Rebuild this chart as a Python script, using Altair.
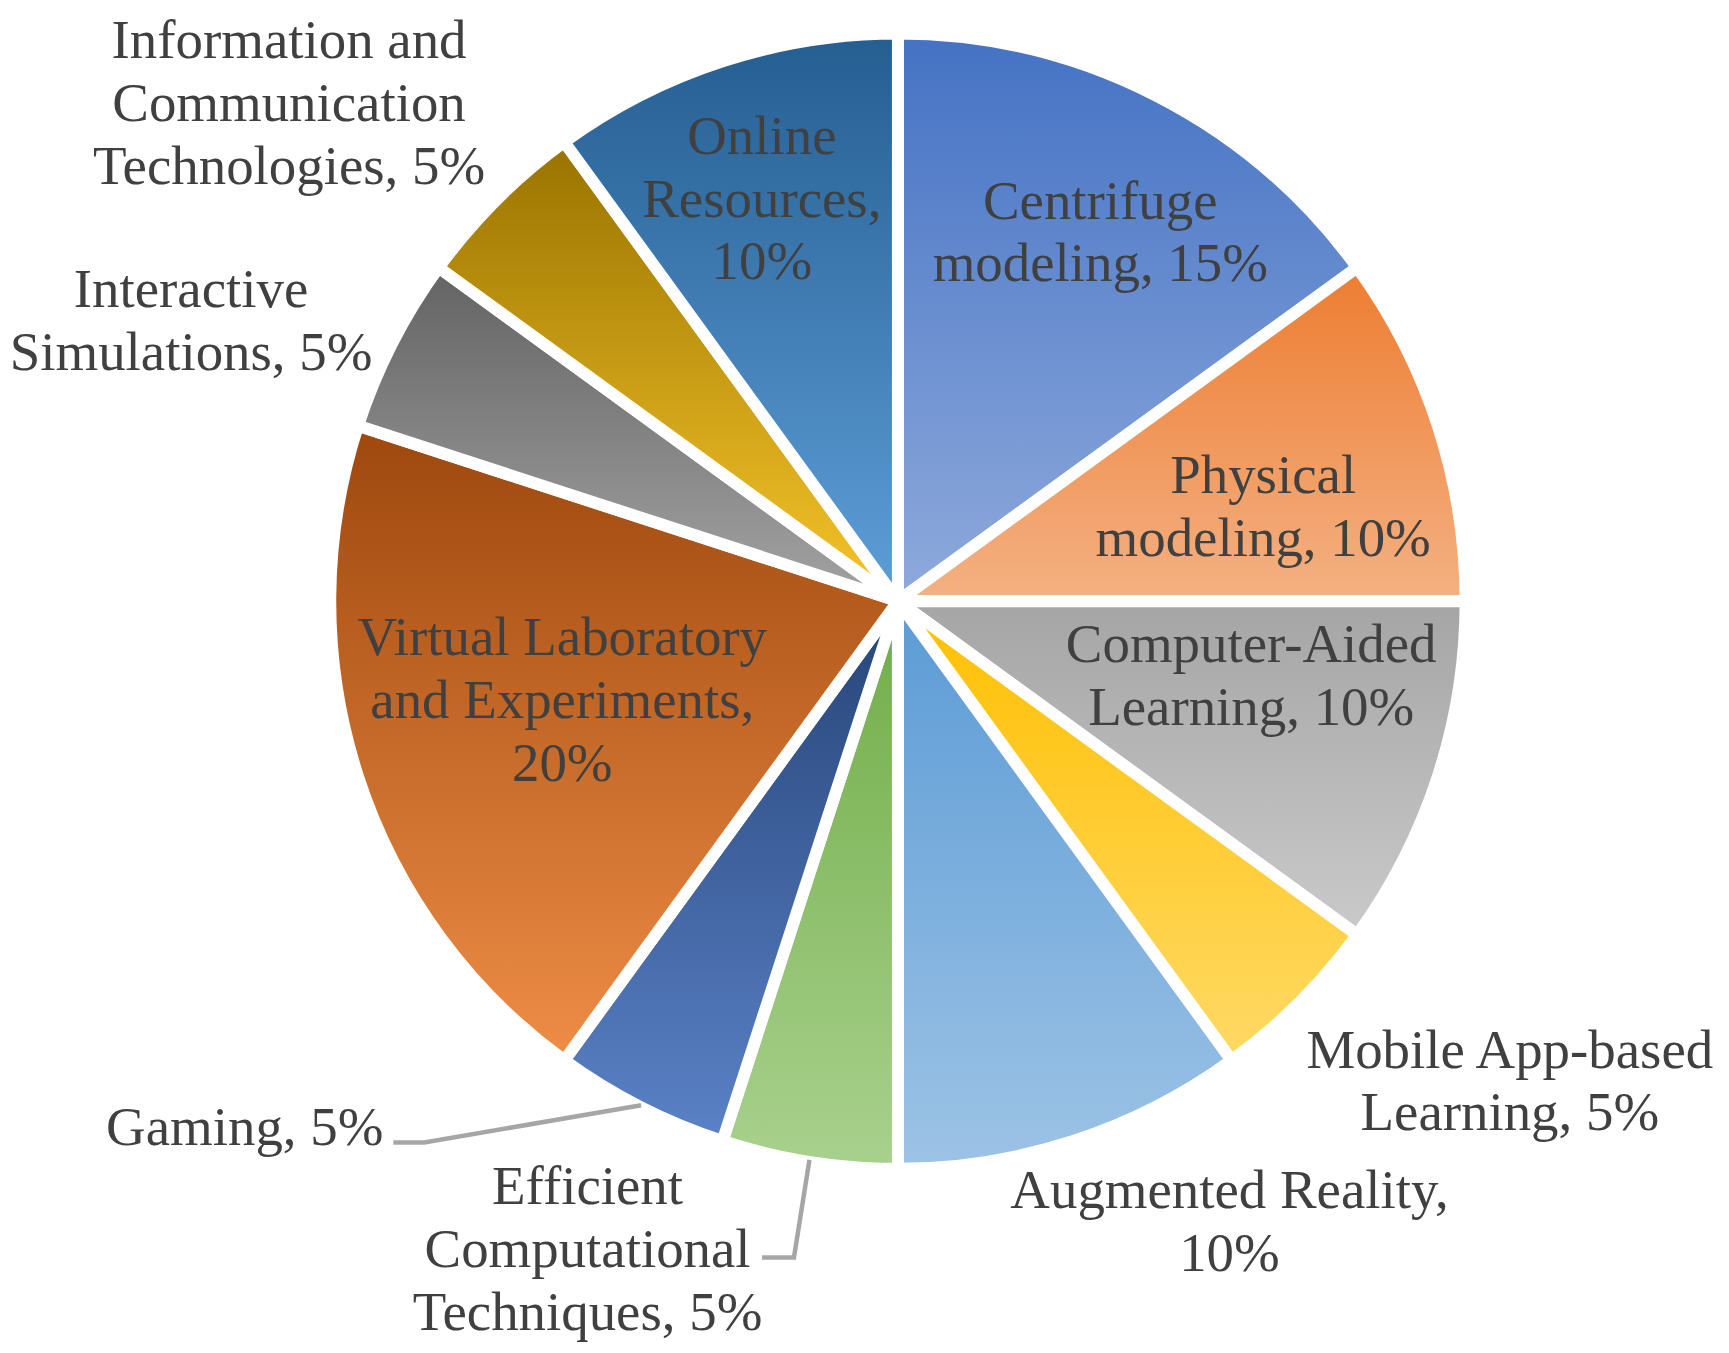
import math
import altair as alt
import numpy as np
import pandas as pd

# ---- data ----
categories = [
    "Centrifuge modeling",
    "Physical modeling",
    "Computer-Aided Learning",
    "Mobile App-based Learning",
    "Augmented Reality",
    "Efficient Computational Techniques",
    "Gaming",
    "Virtual Laboratory and Experiments",
    "Interactive Simulations",
    "Information and Communication Technologies",
    "Online Resources",
]
values = [15, 10, 10, 5, 10, 5, 5, 20, 5, 5, 10]
labels = [
    "Centrifuge\nmodeling, 15%",
    "Physical\nmodeling, 10%",
    "Computer-Aided\nLearning, 10%",
    "Mobile App-based\nLearning, 5%",
    "Augmented Reality,\n10%",
    "Efficient\nComputational\nTechniques, 5%",
    "Gaming, 5%",
    "Virtual Laboratory\nand Experiments,\n20%",
    "Interactive\nSimulations, 5%",
    "Information and\nCommunication\nTechnologies, 5%",
    "Online\nResources,\n10%",
]

# ---- style / layout ----
top_colors = ["#4472C4", "#ED7D31", "#A5A5A5", "#FFC000", "#5B9BD5", "#70AD47",
              "#264478", "#9E480E", "#636363", "#997300", "#255E91"]
bottom_colors = ["#8FAADC", "#F4B183", "#CACACA", "#FFD966", "#9DC3E6", "#A9D18E",
                 "#5B82C7", "#EE8D46", "#A3A3A3", "#F7C52A", "#5E9ED8"]
label_shift = [0.5, 1.0, -1.67, -1.9, -2.8, 4.6, 6.7, 0.4, -1.5, -1.6, -0.2]   # % points from slice middle
label_radius = [421, 378, 362, 780, 706, 721, 841, 351, 762, 788, 425]          # px from centre

leader_cats = ["Gaming", "Efficient Computational Techniques"]
leader_elbow_shift = [3.94, 0.0]
leader_elbow_r = [721, 666]
leader_tail = [-31, -32]
leader_start_r = 567

W, H = 1600, 1186
R_OUT = 569
LINE_H = 63
FONT_SIZE = 55
total = sum(values)

cum = np.cumsum(values)
df = pd.DataFrame({
    "category": categories,
    "value": values,
    "label": labels,
    "start": cum - np.array(values),
    "end": cum,
})
df["mid"] = (df["start"] + df["end"]) / 2
df["lt"] = df["mid"] + np.array(label_shift)
df["lr"] = label_radius
df["nlines"] = [s.count("\n") + 1 for s in labels]

rows = []
for cat, sh, er, tail in zip(leader_cats, leader_elbow_shift, leader_elbow_r, leader_tail):
    mid = float(df.loc[df.category == cat, "mid"].iloc[0])
    rows.append({"category": cat, "step": 0, "pct": mid, "r": leader_start_r, "dx": 0})
    rows.append({"category": cat, "step": 1, "pct": mid + sh, "r": er, "dx": 0})
    rows.append({"category": cat, "step": 2, "pct": mid + sh, "r": er, "dx": tail})
leaders_df = pd.DataFrame(rows)

theta_scale = alt.Scale(domain=[0, total], range=[0, 2 * math.pi])

arcs = []
for cat, c0, c1 in zip(categories, top_colors, bottom_colors):
    grad = alt.LinearGradient(
        gradient="linear",
        stops=[alt.GradientStop(color=c0, offset=0), alt.GradientStop(color=c1, offset=1)],
        x1=0, x2=0, y1=0, y2=1,
    )
    arcs.append(
        alt.Chart(df)
        .transform_filter(alt.datum.category == cat)
        .mark_arc(outerRadius=R_OUT, fill=grad, stroke="white", strokeWidth=12)
        .encode(
            theta=alt.Theta("start:Q", scale=theta_scale, stack=None),
            theta2="end:Q",
        )
    )

leaders = (
    alt.Chart(leaders_df)
    .transform_calculate(a=f"datum.pct / {total} * 2 * PI")
    .transform_calculate(px="datum.r * sin(datum.a) + datum.dx", py="datum.r * cos(datum.a)")
    .mark_line(color="#A6A6A6", strokeWidth=4.5)
    .encode(
        x=alt.X("px:Q", scale=alt.Scale(domain=[-W / 2, W / 2], nice=False, zero=False), axis=None),
        y=alt.Y("py:Q", scale=alt.Scale(domain=[-H / 2, H / 2], nice=False, zero=False), axis=None),
        detail="category:N",
        order="step:Q",
    )
)

texts = []
for n in sorted(set(df["nlines"])):
    texts.append(
        alt.Chart(df)
        .transform_filter(alt.datum.nlines == int(n))
        .mark_text(font="Liberation Serif", fontSize=FONT_SIZE, color="#404040", lineBreak="\n",
                   lineHeight=LINE_H, align="center", baseline="middle",
                   dy=-(int(n) - 1) * LINE_H / 2)
        .encode(
            theta=alt.Theta("lt:Q", scale=theta_scale, stack=None),
            radius=alt.Radius("lr:Q", scale=None),
            text="label:N",
        )
    )

chart = (
    alt.layer(*arcs, leaders, *texts)
    .properties(
        width=W, height=H,
        padding={"left": 92, "top": 0, "right": 25, "bottom": 150},
        autosize=alt.AutoSizeParams(type="none"),
    )
    .configure_view(stroke=None)
)

chart.save("out.html", embed_options={"renderer": "svg", "actions": False})
